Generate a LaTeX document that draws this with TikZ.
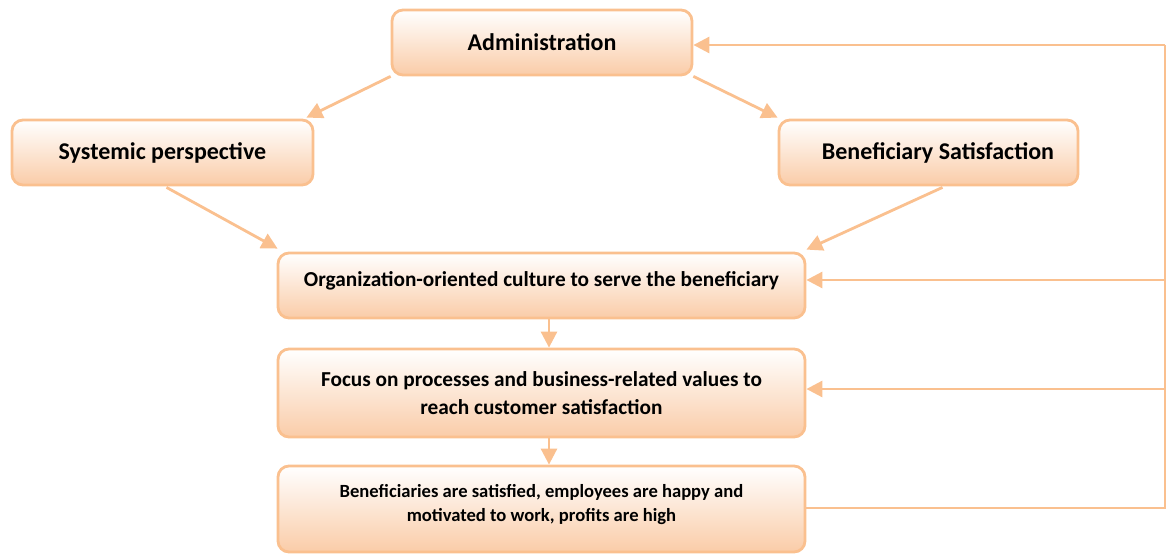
\documentclass[tikz,border=0pt]{standalone}
\usepackage{fontspec}
\setmainfont{Carlito}
\usetikzlibrary{arrows.meta,calc}
\definecolor{edgec}{RGB}{250,192,143}
\definecolor{fillbot}{RGB}{250,204,168}
\begin{document}
\begin{tikzpicture}[x=1pt,y=-1pt,
  box/.style={draw=edgec, line width=2.8pt, rounded corners=11pt, top color=white, bottom color=fillbot,
    shading angle=0, align=center, inner sep=0pt},
  bigtxt/.style={font=\bfseries\fontsize{24}{29}\selectfont},
  midtxt/.style={font=\bfseries\fontsize{21.3}{28}\selectfont},
  smalltxt/.style={font=\bfseries\fontsize{18.6}{24}\selectfont},
  conn/.style={draw=edgec, line width=2.8pt, -{Triangle[length=16pt,width=16pt]}},
  plain/.style={draw=edgec, line width=2.8pt}]
\useasboundingbox (0,0) rectangle (1170,554);

\node[box, bigtxt, minimum width=300pt, minimum height=65pt] (adm) at (542,42.5) {Administration};
\node[box, bigtxt, minimum width=301pt, minimum height=65pt] (sys) at (162.5,152.5) {Systemic perspective};
\node[box, bigtxt, minimum width=299pt, minimum height=65pt] (bsat) at (928.5,152.5) {\hspace*{19pt}Beneficiary Satisfaction};
\node[box, midtxt, minimum width=527pt, minimum height=65pt, text depth=13pt] (org) at (541.5,285.5) {Organization-oriented culture to serve the beneficiary};
\node[box, midtxt, minimum width=527pt, minimum height=88pt] (foc) at (541.5,393) {Focus on processes and business-related values to\\reach customer satisfaction};
\node[box, smalltxt, minimum width=527pt, minimum height=86pt, text depth=12pt] (ben) at (541.5,509) {Beneficiaries are satisfied, employees are happy and\\motivated to work, profits are high};

\draw[conn] (adm.south west) -- ($(sys.north east)+(-8,-1)$);
\draw[conn] (adm.south east) -- ($(bsat.north west)+(0,-1)$);
\draw[conn] ($(sys.south)+(4,1)$) -- ($(org.north west)+(1,-3)$);
\draw[conn] ($(bsat.south)+(14,1)$) -- ($(org.north east)+(0,-2)$);
\draw[conn] ($(org.south)+(7.5,0)$) -- ($(foc.north)+(7.5,0)$);
\draw[conn] ($(foc.south)+(7.5,0)$) -- ($(ben.north)+(7.5,0)$);

\coordinate (fbot) at (1165,508);
\coordinate (ftop) at (1165,45);
\coordinate (forg) at (1165,280);
\coordinate (ffoc) at (1165,389);
\draw[plain, line join=miter] (ben.east |- fbot) -- (fbot) -- (ftop);
\draw[conn] (ftop) -- (ftop -| adm.east);
\draw[conn] (forg) -- (forg -| org.east);
\draw[conn] (ffoc) -- (ffoc -| foc.east);
\end{tikzpicture}
\end{document}
